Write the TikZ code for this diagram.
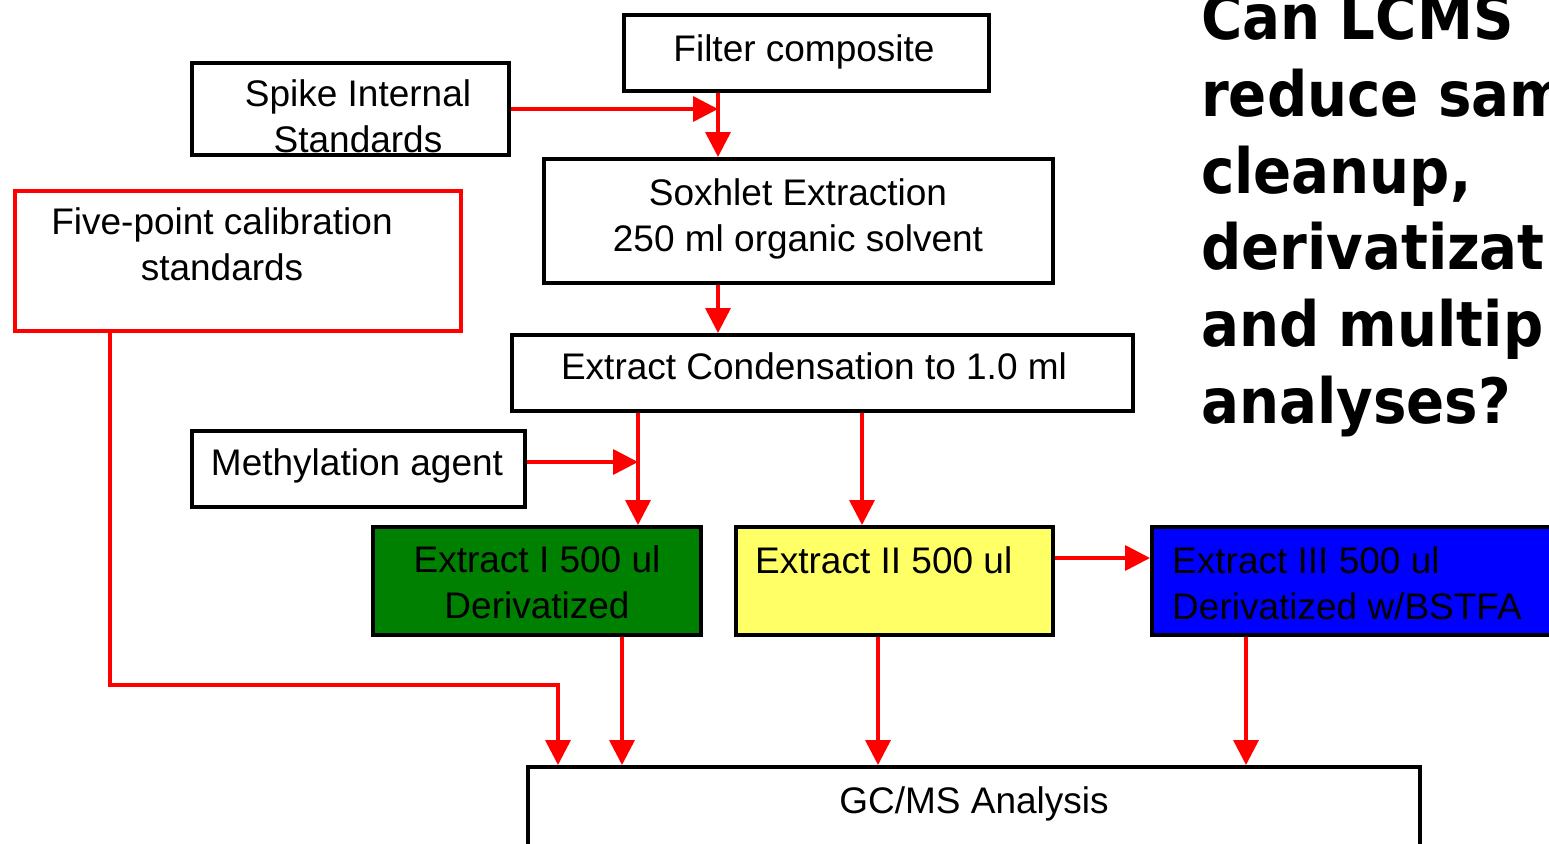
\documentclass[tikz,border=0pt]{standalone}
\usepackage{fontspec}
\setmainfont{Liberation Sans}
\newfontfamily\titlefont{DejaVu Sans Condensed}
\usetikzlibrary{arrows.meta}

\definecolor{extgreen}{RGB}{0,128,0}
\definecolor{extyellow}{RGB}{255,255,102}
\definecolor{extblue}{RGB}{0,0,255}

\tikzset{
  box/.style = {draw = black, line width = 4pt, rectangle, inner sep = 0pt},
  calbox/.style = {box, draw = red},
  lbl/.style = {font = \fontsize{37}{46}\selectfont, inner sep = 0pt, align = center},
  flow/.style = {draw = red, line width = 3.6pt, -{Triangle[length = 25pt, width = 25pt]}},
  question/.style = {font = \titlefont\bfseries\fontsize{62.5}{76.8}\selectfont, inner sep = 0pt, align = left}
}

\begin{document}
\begin{tikzpicture}[x = 1pt, y = -1pt]
        \useasboundingbox (0,0) rectangle (1549,843) ;
        \clip (0,0) rectangle (1549,843) ;

        % boxes
        \node [box, minimum width = 365pt, minimum height = 76pt] (filter) at (806.5,53) {} ;
        \node [box, minimum width = 317pt, minimum height = 92pt] (spike) at (350.5,109) {} ;
        \node [box, minimum width = 509pt, minimum height = 124pt] (soxhlet) at (798.5,221) {} ;
        \node [calbox, minimum width = 446pt, minimum height = 140pt] (cal) at (238,261) {} ;
        \node [box, minimum width = 621pt, minimum height = 76pt] (cond) at (822.5,373) {} ;
        \node [box, minimum width = 333pt, minimum height = 76pt] (methyl) at (358.5,469) {} ;
        \node [box, fill = extgreen, minimum width = 328pt, minimum height = 108pt] (ext1) at (537,581) {} ;
        \node [box, fill = extyellow, minimum width = 317pt, minimum height = 108pt] (ext2) at (894.5,581) {} ;
        \node [box, fill = extblue, minimum width = 496pt, minimum height = 108pt] (ext3) at (1400,581) {} ;
        \node [box, minimum width = 892pt, minimum height = 136pt] (gcms) at (974,835) {} ;

        % texts
        \node [lbl] (filtertxt) at (804,51.5) {Filter composite} ;
        \node [lbl] (spiketxt) at (358,116) {Spike Internal\\Standards} ;
        \node [lbl] (soxhlettxt) at (798,218.5) {Soxhlet Extraction\\250 ml organic solvent} ;
        \node [lbl] (caltxt) at (222,244.5) {Five-point calibration\\standards} ;
        \node [lbl] (condtxt) at (814,366) {Extract Condensation to 1.0 ml} ;
        \node [lbl] (methyltxt) at (357,465.5) {Methylation agent} ;
        \node [lbl] (ext1txt) at (537,582) {Extract I 500 ul\\Derivatized} ;
        \node [lbl, anchor = west] (ext2txt) at (755,560) {Extract II 500 ul} ;
        \node [lbl, anchor = west, align = left] (ext3txt) at (1172,583) {Extract III 500 ul\\Derivatized w/BSTFA} ;
        \node [lbl] (gcmstxt) at (974,803.5) {GC/MS Analysis} ;
        \node [question, anchor = north west] (question) at (1201,-7) {Can LCMS\\reduce sam\\cleanup,\\derivatizat\\and multip\\analyses?} ;

        % connectors
        \coordinate (spikein) at (718,109) ;
        \coordinate (methin) at (638,462) ;
        \coordinate (ext2in) at (862,470) ;
        \coordinate (ext3in) at (1150,558) ;
        \coordinate (calturn) at (110,685) ;
        \coordinate (caldrop) at (558,685) ;
        \coordinate (drop-ext1) at (622,700) ;
        \coordinate (drop-ext2) at (878,700) ;
        \coordinate (drop-ext3) at (1246,700) ;

        \draw [flow] (spike.east) -- (spikein) ;
        \draw [flow] (filter.south -| spikein) -- (soxhlet.north -| spikein) ;
        \draw [flow] (soxhlet.south -| spikein) -- (cond.north -| spikein) ;
        \draw [flow] (methyl.east |- methin) -- (methin) ;
        \draw [flow] (cond.south -| methin) -- (ext1.north -| methin) ;
        \draw [flow] (cond.south -| ext2in) -- (ext2.north -| ext2in) ;
        \draw [flow] (ext2.east |- ext3in) -- (ext3.west |- ext3in) ;
        \draw [flow] (cal.south -| calturn) -- (calturn) -- (caldrop) -- (gcms.north -| caldrop) ;
        \foreach \src in {ext1, ext2, ext3}
            \draw [flow] (\src.south -| drop-\src) -- (gcms.north -| drop-\src) ;
    \end{tikzpicture}
\end{document}
